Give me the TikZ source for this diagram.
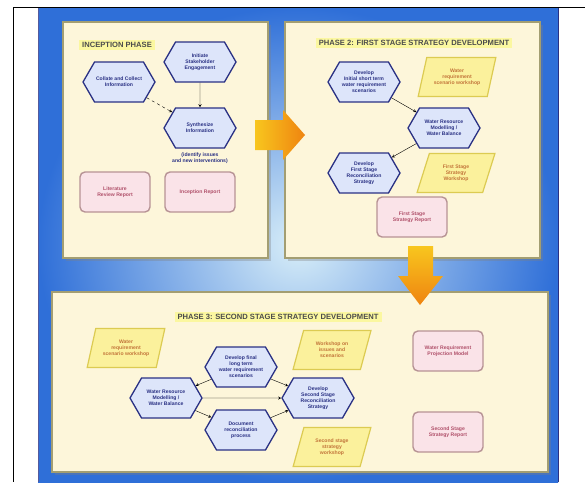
\documentclass[tikz,border=0pt]{standalone}
\usepackage{fontspec}
\setmainfont{Liberation Sans}
\usetikzlibrary{shapes.geometric,shapes.symbols,shadows}
\definecolor{skyblue}{HTML}{2F6FD8}
\definecolor{skylight}{HTML}{D8EEF8}
\definecolor{panelfill}{HTML}{FDF6DA}
\definecolor{panelline}{HTML}{A39E72}
\definecolor{titlefill}{HTML}{FBF7A0}
\definecolor{hexfill}{HTML}{DDE5FA}
\definecolor{hexline}{HTML}{2A3184}
\definecolor{parafill}{HTML}{FBF19C}
\definecolor{paraline}{HTML}{DCCB52}
\definecolor{paratext}{HTML}{C2753A}
\definecolor{repfill}{HTML}{FAE3E8}
\definecolor{repline}{HTML}{B79395}
\definecolor{reptext}{HTML}{B0506A}
\definecolor{arrowyellow}{HTML}{F8C61E}
\definecolor{arroworange}{HTML}{EF8410}
\tikzset{
  panel/.style={draw=panelline, line width=1.8pt, fill=panelfill, drop shadow={opacity=0.35}},
  phasetitle/.style={fill=titlefill, inner xsep=3pt, inner ysep=2pt, text=black!70, font=\fontsize{7.6}{8}\selectfont\bfseries},
  hexbox/.style={shape=signal, signal to=east and west, signal pointer angle=120, draw=hexline, line width=1.3pt, fill=hexfill, minimum width=72pt, minimum height=40pt, inner sep=1pt, align=center, text=hexline, font=\fontsize{5.1}{6}\selectfont\bfseries},
  parabox/.style={trapezium, trapezium left angle=72, trapezium right angle=108, trapezium stretches=true, draw=paraline, line width=1.2pt, fill=parafill, minimum width=78pt, minimum height=39pt, align=center, text=paratext, font=\fontsize{5.1}{6}\selectfont\bfseries},
  repbox/.style={rectangle, rounded corners=5pt, draw=repline, line width=1.4pt, fill=repfill, minimum width=70pt, minimum height=40pt, align=center, text=reptext, font=\fontsize{5.1}{6}\selectfont\bfseries}
}
\begin{document}
\begin{tikzpicture}[x=1pt,y=-1pt,>=stealth]
  \useasboundingbox (0,0) rectangle (585,482);
  % background
  \fill[white] (0,0) rectangle (585,482);
  \shade[inner color=skylight, outer color=skyblue] (38,7) rectangle (558,482);
  \draw[hexline!80, line width=1pt] (38,7) -- (38,482);
  \draw[hexline, line width=1pt] (558,7) -- (558,482);
  \draw[line width=0.8pt] (585,7) -- (13,7) -- (13,482);

  % panels
  \draw[panel] (63,22) rectangle (268,258);
  \draw[panel] (285,22) rectangle (540,258);
  \draw[panel] (52,292) rectangle (548,472);

  % block arrows
  \shade[left color=arrowyellow, right color=arroworange]
    (255,120) -- (283,120) -- (283,110) -- (305,135) -- (283,160) -- (283,150) -- (255,150) -- cycle;
  \shade[top color=arrowyellow, bottom color=arroworange]
    (408,246) -- (433,246) -- (433,276) -- (443,276) -- (420,305) -- (398,276) -- (408,276) -- cycle;

  % inception phase
  \node[phasetitle] (title1) at (117,45) {INCEPTION PHASE};
  \node[hexbox] (initiate) at (200,62) {Initiate\\Stakeholder\\Engagement};
  \node[hexbox] (collate) at (119,82) {Collate and Collect\\Information};
  \node[hexbox] (synth) at (200,128) {Synthesize\\Information};
  \node[text=hexline, align=center, font=\fontsize{5.1}{6}\selectfont\bfseries] (identify) at (200,158) {(identify issues\\and new interventions)};
  \node[repbox] (litrep) at (115,192) {Literature\\Review Report};
  \node[repbox] (increp) at (200,192) {Inception Report};
  \draw[->] (initiate) -- (synth);
  \draw[->, dashed] (collate) -- (synth);

  % phase 2
  \node[phasetitle] (title2) at (414,43) {PHASE 2: FIRST STAGE STRATEGY DEVELOPMENT};
  \node[hexbox] (initscen) at (364,82) {Develop\\Initial short term\\water requirement\\scenarios};
  \node[parabox] (scenws) at (457,77) {Water\\requirement\\scenario workshop};
  \node[hexbox] (wrmone) at (444,128) {Water Resource\\Modelling /\\Water Balance};
  \node[hexbox] (firststrat) at (364,173) {Develop\\First Stage\\Reconciliation\\Strategy};
  \node[parabox] (firstws) at (456,173) {First Stage\\Strategy\\Workshop};
  \node[repbox] (firstrep) at (412,217) {First Stage\\Strategy Report};
  \draw[->] (initscen) -- (wrmone);
  \draw[->] (wrmone) -- (firststrat);

  % phase 3
  \node[phasetitle] (title3) at (278,317) {PHASE 3: SECOND STAGE STRATEGY DEVELOPMENT};
  \node[parabox] (scenwstwo) at (126,348) {Water\\requirement\\scenario workshop};
  \node[hexbox] (finalscen) at (241,367) {Develop final\\long term\\water requirement\\scenarios};
  \node[parabox] (issuesws) at (332,350) {Workshop on\\issues and\\scenarios};
  \node[repbox] (projmodel) at (448,351) {Water Requirement\\Projection Model};
  \node[hexbox] (wrmtwo) at (166,398) {Water Resource\\Modelling /\\Water Balance};
  \node[hexbox] (secondstrat) at (318,398) {Develop\\Second Stage\\Reconciliation\\Strategy};
  \node[hexbox] (document) at (241,430) {Document\\reconciliation\\process};
  \node[parabox] (secondws) at (332,447) {Second stage\\strategy\\workshop};
  \node[repbox] (secondrep) at (448,432) {Second Stage\\Strategy Report};
  \draw[->] (finalscen) -- (wrmtwo);
  \draw[->] (finalscen) -- (secondstrat);
  \draw[->] (wrmtwo) -- (secondstrat);
  \draw[->] (wrmtwo) -- (document);
  \draw[->] (document) -- (secondstrat);
\end{tikzpicture}
\end{document}
